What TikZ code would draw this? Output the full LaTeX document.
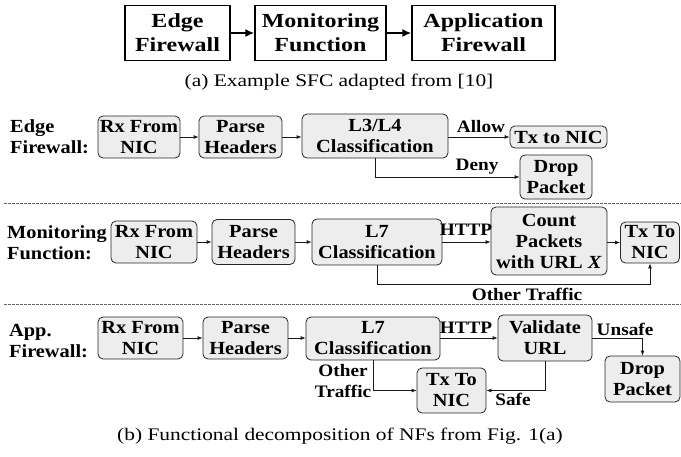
\documentclass[tikz,border=0pt]{standalone}
\usepackage{fontspec}
\usetikzlibrary{arrows.meta}
\newfontfamily\topf{Liberation Serif}[FakeStretch=1.2]
\newfontfamily\secf{Liberation Serif}[FakeStretch=1.1]
\newfontfamily\capf{Liberation Serif}[FakeStretch=1.21]
\begin{document}
\begin{tikzpicture}[x=1pt,y=-1pt,
  topbox/.style={draw=black, line width=1.3pt, minimum height=55, align=center, inner sep=0pt,
    font=\topf\bfseries\fontsize{20}{24}\selectfont},
  toparr/.style={-{Latex[length=9pt,width=8pt]}, line width=1.8pt},
  fnbox/.style={draw=black!85, line width=0.8pt, fill=black!7, rounded corners=5pt, align=center,
    inner sep=0pt, font=\secf\bfseries\fontsize{18.5}{21}\selectfont},
  seclbl/.style={anchor=west, align=left, inner sep=0pt, font=\secf\bfseries\fontsize{18.5}{21}\selectfont},
  elbl/.style={inner sep=0pt, align=center, font=\secf\bfseries\fontsize{17.5}{21}\selectfont},
  arr/.style={-{Latex[length=5pt,width=4pt]}, line width=0.8pt, draw=black!90},
  sepline/.style={draw=black!60, line width=0.8pt, dash pattern=on 2.5pt off 1.5pt},
  capt/.style={inner sep=0pt, font=\capf\fontsize{17.7}{21}\selectfont}
]
\useasboundingbox (0,0) rectangle (681,456);

% ---- (a) ----
\node[topbox, minimum width=105] (ef) at (177.5,33) {Edge\\Firewall};
\node[topbox, minimum width=131] (mf) at (320.5,33) {Monitoring\\Function};
\node[topbox, minimum width=143] (af) at (483.5,33) {Application\\Firewall};
\draw[toparr] (ef) -- (mf);
\draw[toparr] (mf) -- (af);
\node[capt] (capa) at (339,82) {(a) Example SFC adapted from [10]};

% ---- Edge Firewall ----
\node[seclbl] (lab1) at (10,137) {Edge\\Firewall:};
\node[fnbox, minimum width=82, minimum height=42] (rx1) at (139,137) {Rx From\\NIC};
\node[fnbox, minimum width=83, minimum height=42] (ph1) at (240.5,137) {Parse\\Headers};
\node[fnbox, minimum width=146, minimum height=44] (cl1) at (375,136) {L3/L4\\Classification};
\node[fnbox, minimum width=97, minimum height=22] (tx1) at (558.5,137) {Tx to NIC};
\node[fnbox, minimum width=72, minimum height=44] (dp1) at (556,177) {Drop\\Packet};
\draw[arr] (rx1) -- (ph1);
\draw[arr] (ph1.east) -- (ph1.east -| cl1.west);
\draw[arr] (cl1.east |- tx1.west) -- (tx1.west);
\node[elbl] (allow) at (481,127) {Allow};
\draw[arr] (cl1.south) |- (dp1.west);
\node[elbl] (deny) at (477,167) {Deny};

\draw[sepline] (4,203) -- (681,203);

% ---- Monitoring Function ----
\node[seclbl] (lab2) at (7,243) {Monitoring\\Function:};
\node[fnbox, minimum width=86, minimum height=42] (rx2) at (154,242) {Rx From\\NIC};
\node[fnbox, minimum width=83, minimum height=45] (ph2) at (253.5,242) {Parse\\Headers};
\node[fnbox, minimum width=130, minimum height=46] (cl2) at (377,242) {L7\\Classification};
\node[fnbox, minimum width=116, minimum height=68] (cp2) at (549,241) {Count\\Packets\\with URL \textit{X}};
\node[fnbox, minimum width=59, minimum height=41] (tx2) at (650,242.5) {Tx To\\NIC};
\draw[arr] (rx2) -- (ph2);
\draw[arr] (ph2) -- (cl2);
\draw[arr] (cl2.east) -- (cl2.east -| cp2.west);
\node[elbl] (http2) at (466,230) {HTTP};
\draw[arr] (cp2.east |- tx2.west) -- (tx2.west);
\coordinate (ot2) at (377,284);
\draw[arr] (cl2.south) -- (ot2) -| (tx2.south);
\node[elbl] (otl2) at (527,294) {Other Traffic};

\draw[sepline] (4,304) -- (681,304);

% ---- App. Firewall ----
\node[seclbl] (lab3) at (9,341) {App.\\Firewall:};
\node[fnbox, minimum width=85, minimum height=42] (rx3) at (140.5,338) {Rx From\\NIC};
\node[fnbox, minimum width=85, minimum height=42] (ph3) at (245.5,338) {Parse\\Headers};
\node[fnbox, minimum width=134, minimum height=43] (cl3) at (373,338.5) {L7\\Classification};
\node[fnbox, minimum width=94, minimum height=46] (vu3) at (545,338) {Validate\\URL};
\node[fnbox, minimum width=75, minimum height=46] (dp3) at (642.5,379) {Drop\\Packet};
\node[fnbox, minimum width=69, minimum height=45] (tx3) at (451.5,390.5) {Tx To\\NIC};
\draw[arr] (rx3) -- (ph3);
\draw[arr] (ph3) -- (cl3.west |- ph3.east);
\draw[arr] (cl3.east |- vu3.west) -- (vu3.west);
\node[elbl] (http3) at (466,328) {HTTP};
\draw[arr] (vu3.east) -| (dp3.north);
\node[elbl] (unsafe) at (625,329) {Unsafe};
\draw[arr] (cl3.south) |- (tx3.west);
\node[elbl] (otl3) at (343,381) {Other\\Traffic};
\draw[arr] (vu3.south) |- (tx3.east);
\node[elbl] (safe) at (513,399) {Safe};

\node[capt] (capb) at (340,436) {(b) Functional decomposition of NFs from Fig. 1(a)};
\end{tikzpicture}
\end{document}
